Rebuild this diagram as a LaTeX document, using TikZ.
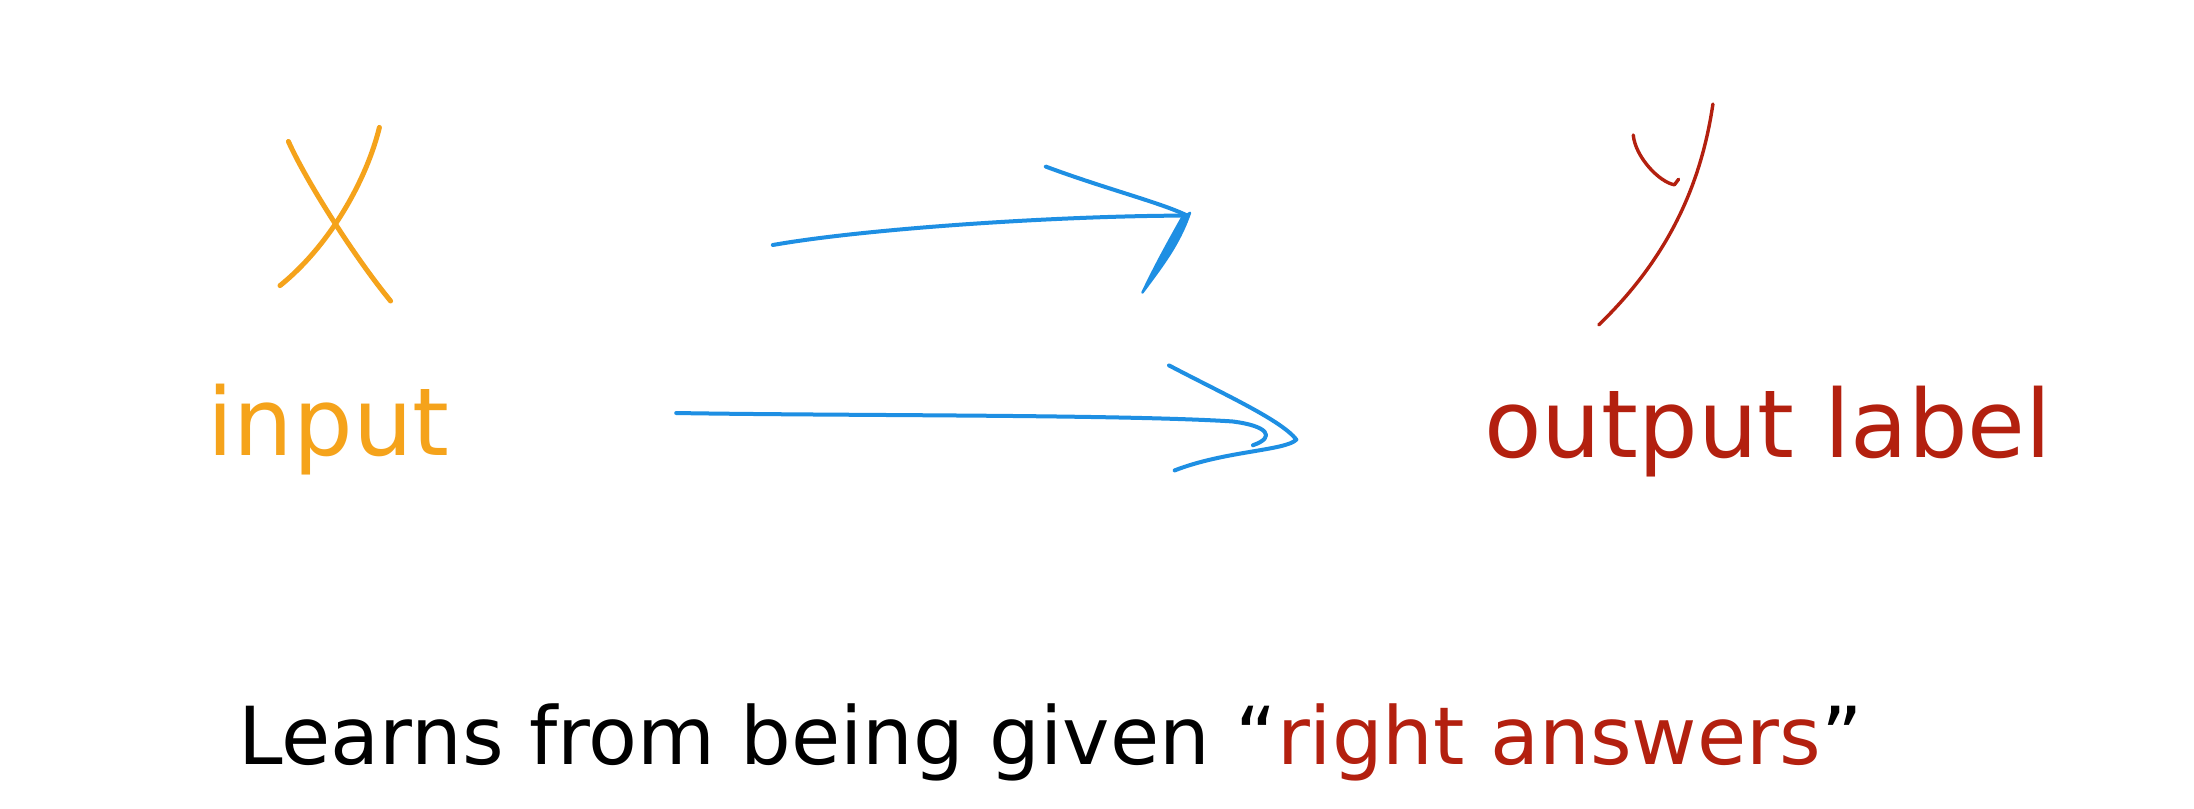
\documentclass[tikz,border=0pt]{standalone}
\usepackage{fontspec}
\setmainfont{DejaVu Sans}
\definecolor{xorange}{HTML}{F5A31B}
\definecolor{yred}{HTML}{B3200F}
\definecolor{arrowblue}{HTML}{1E8FE3}
\begin{document}
\begin{tikzpicture}[x=0.7pt,y=-0.7pt,line cap=round,line join=round,
  xpen/.style={draw=xorange,line width=2.5pt},
  ypen/.style={draw=yred,line width=1.7pt},
  bpen/.style={draw=arrowblue,line width=2pt},
  lbl/.style={anchor=base west,inner sep=0pt}]
\useasboundingbox[fill=white] (0,0) rectangle (1567.14,577.14);
% X
\draw[xpen] (206,101) .. controls (218,128) and (252,182) .. (279,215);
\draw[xpen] (271,91) .. controls (262,128) and (236,175) .. (200,204);
% Y
\draw[ypen] (1223.5,74.3) .. controls (1216,125) and (1196,180) .. (1142,232);
\draw[ypen] (1166.6,96.4) .. controls (1168,112) and (1185,130) .. (1196,132) -- (1199,128);
% labels
\node[lbl,text=xorange,font=\fontsize{47}{47}\selectfont] (input) at (148,325) {input};
\node[lbl,text=yred,font=\fontsize{47}{47}\selectfont] (output) at (1060,327) {output label};
\node[lbl,font=\fontsize{40}{40}\selectfont] (caption) at (170,546) {Learns from being given “\textcolor{yred}{right answers}”};
% upper arrow
\coordinate (a1s) at (552,175);
\coordinate (a1t) at (848,154);
\draw[bpen] (a1s) .. controls (620,163) and (760,154) .. (a1t);
\draw[bpen] (747,119) .. controls (790,135) and (830,145) .. (a1t);
\fill[arrowblue,draw=arrowblue,line width=1.2pt] (850,152) .. controls (842,175) and (830,190) .. (816,209) .. controls (825,190) and (835,172) .. (844,156) -- cycle;
% lower arrow
\coordinate (a2s) at (483,295);
\coordinate (a2t) at (926,314);
\draw[bpen] (a2s) .. controls (600,297) and (800,296) .. (880,301) .. controls (905,304) and (912,312) .. (895,318);
\draw[bpen] (835,261) .. controls (875,282) and (915,300) .. (a2t) .. controls (918,322) and (875,322) .. (839,336);
\end{tikzpicture}
\end{document}
